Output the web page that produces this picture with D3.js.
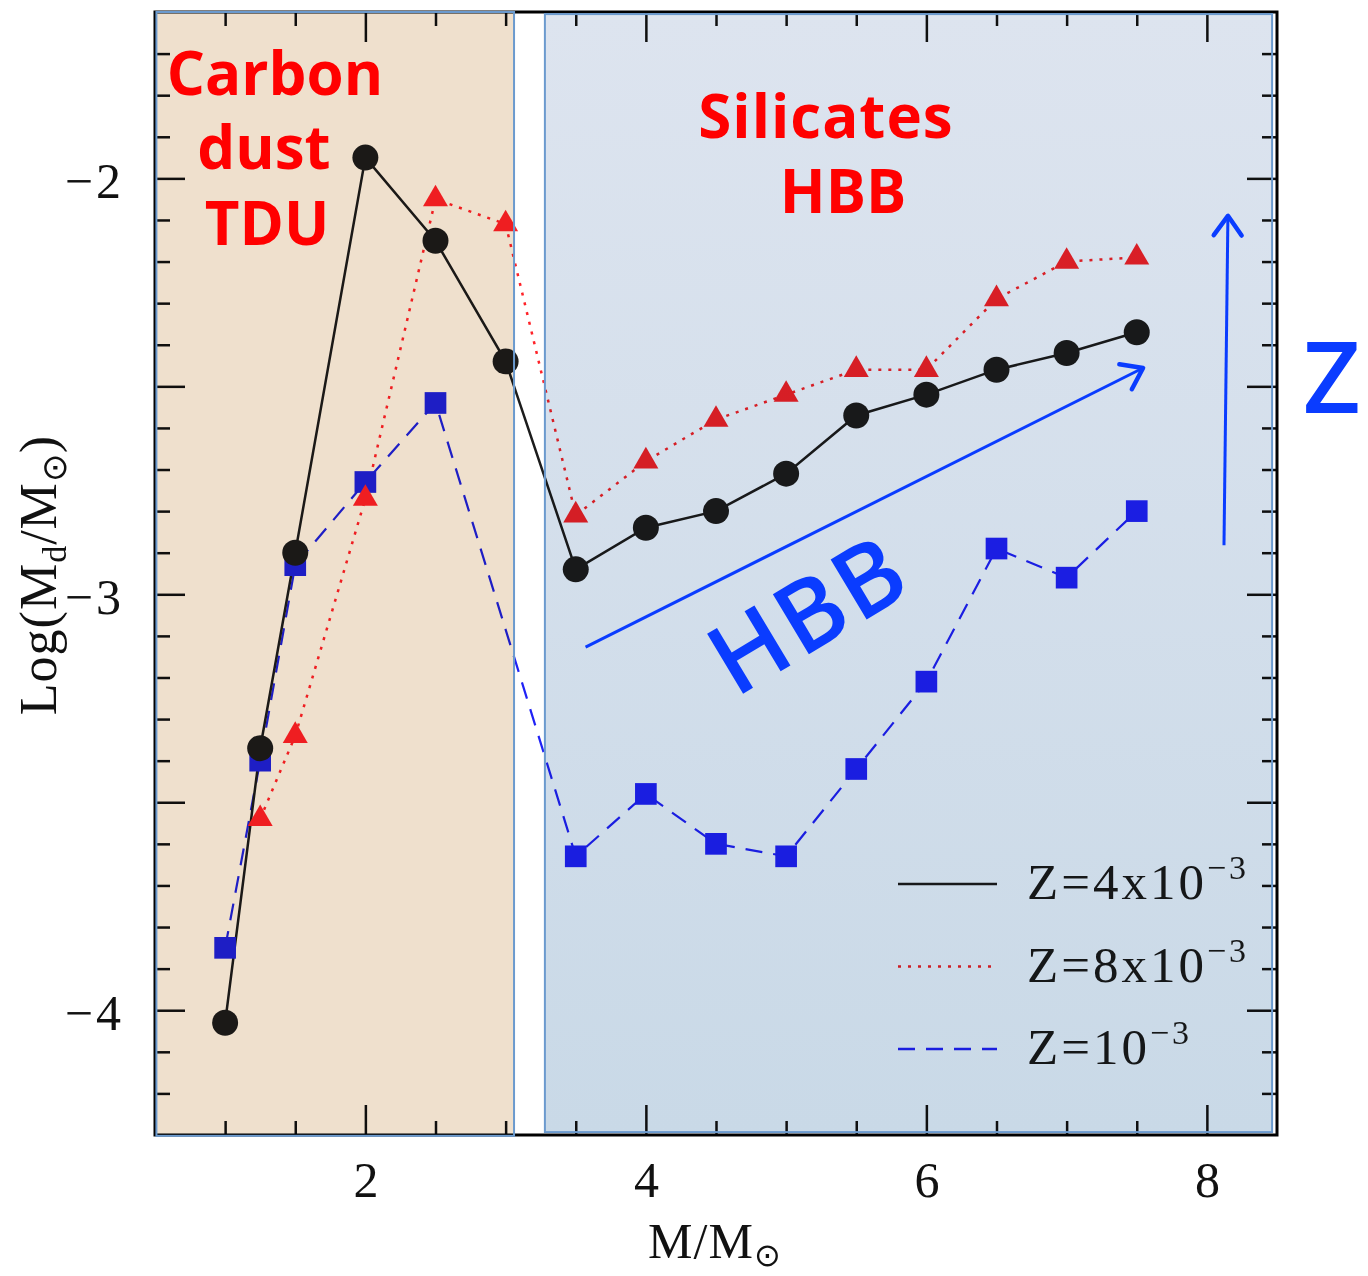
<!DOCTYPE html>
<html>
<head>
<meta charset="utf-8">
<script src="https://d3js.org/d3.v7.min.js"></script>
<style>
body { margin: 0; background: #fff; }
svg { display: block; }
.axis text { font-family: "Liberation Serif", serif; font-size: 50px; fill: #111; }
.note { font-family: "Open Sans", sans-serif; }
</style>
</head>
<body>
<svg id="chart" width="1368" height="1276"></svg>
<script>
// stellar mass (M/Msun) and log dust mass, one pair of arrays per metallicity
var massZ4 = [1, 1.25, 1.5, 2, 2.5, 3, 3.5, 4, 4.5, 5, 5.5, 6, 6.5, 7, 7.5];
var dustZ4 = [-4.03, -3.37, -2.90, -1.95, -2.15, -2.44, -2.94, -2.84, -2.80, -2.71, -2.57, -2.52, -2.46, -2.42, -2.37];

var massZ8 = [1.25, 1.5, 2, 2.5, 3, 3.5, 4, 4.5, 5, 5.5, 6, 6.5, 7, 7.5];
var dustZ8 = [-3.54, -3.34, -2.77, -2.05, -2.11, -2.81, -2.68, -2.58, -2.52, -2.46, -2.46, -2.29, -2.20, -2.19];

var massZ1 = [1, 1.25, 1.5, 2, 2.5, 3.5, 4, 4.5, 5, 5.5, 6, 6.5, 7, 7.5];
var dustZ1 = [-3.85, -3.40, -2.93, -2.73, -2.54, -3.63, -3.48, -3.60, -3.63, -3.42, -3.21, -2.89, -2.96, -2.80];

var legendText = ["Z=4x10", "Z=8x10", "Z=10"];
var legendExp = ["\u22123", "\u22123", "\u22123"];

var xMajor = [2, 4, 6, 8];
var yMajor = [-4, -3.5, -3, -2.5, -2];

var svg = d3.select("#chart");
// plot box (note: "top" is a reserved window global, so use pl/pr/pt/pb)
var pl = 155, pr = 1277, pt = 12, pb = 1135;

var x = d3.scaleLinear().domain([0.5, 8.5]).range([pl, pr]);
var y = d3.scaleLinear().domain([-4.3, -1.6]).range([pb, pt]);

svg.append("rect").attr("width", 1368).attr("height", 1276).attr("fill", "#fff");

var defs = svg.append("defs");
var grad = defs.append("linearGradient").attr("id", "blueGrad")
  .attr("x1", 0).attr("y1", 0).attr("x2", 0).attr("y2", 1);
grad.append("stop").attr("offset", "0%").attr("stop-color", "#dde4ef");
grad.append("stop").attr("offset", "100%").attr("stop-color", "#c9d9e7");

// ---- axes (ticks pointing inward) ----
var xMinor = d3.range(1, 8.01, 0.5).filter(function(v){ return xMajor.indexOf(v) < 0; });
var yMinor = d3.range(-4.2, -1.65, 0.1).map(function(v){ return Math.round(v*10)/10; })
  .filter(function(v){ return yMajor.indexOf(v) < 0; });

var fmtY = function(d){ return Number.isInteger(d) ? d3.format("d")(d) : ""; };

function addAxis(axis, tr) {
  var g = svg.append("g").attr("class", "axis").attr("transform", tr).call(axis);
  g.select(".domain").remove();
  g.selectAll("line").attr("stroke", "#111").attr("stroke-width", 2.5);
  return g;
}

addAxis(d3.axisBottom(x).tickValues(xMinor).tickSize(-14).tickFormat(""), "translate(0," + pb + ")");
addAxis(d3.axisBottom(x).tickValues(xMajor).tickSize(-30).tickPadding(26).tickFormat(d3.format("d")), "translate(0," + pb + ")");
addAxis(d3.axisTop(x).tickValues(xMinor).tickSize(-14).tickFormat(""), "translate(0," + pt + ")");
addAxis(d3.axisTop(x).tickValues(xMajor).tickSize(-30).tickFormat(""), "translate(0," + pt + ")");

addAxis(d3.axisLeft(y).tickValues(yMinor).tickSize(-15).tickFormat(""), "translate(" + pl + ",0)");
addAxis(d3.axisLeft(y).tickValues(yMajor).tickSize(-30).tickPadding(31).tickFormat(fmtY), "translate(" + pl + ",0)")
  .selectAll("text").attr("dy", "0.38em").attr("letter-spacing", 3);
addAxis(d3.axisRight(y).tickValues(yMinor).tickSize(-15).tickFormat(""), "translate(" + pr + ",0)");
addAxis(d3.axisRight(y).tickValues(yMajor).tickSize(-30).tickFormat(""), "translate(" + pr + ",0)");

// ---- series ----
var series = [
  {mass: massZ4, dust: dustZ4, color: "#1c1c1c", dash: null, width: 2.5, sym: d3.symbolCircle, size: 530},
  {mass: massZ8, dust: dustZ8, color: "#ff2228", dash: "3,7", width: 2.5, sym: d3.symbolTriangle, size: 270},
  {mass: massZ1, dust: dustZ1, color: "#2022f6", dash: "17,11", width: 2.2, sym: d3.symbolSquare, size: 470}
];

var line = d3.line().x(function(d){ return x(d[0]); }).y(function(d){ return y(d[1]); });

var plot = svg.append("g");
// draw blue, red, black so black sits on top like the original
[2, 1, 0].forEach(function(i) {
  var s = series[i];
  var pts = s.mass.map(function(m, j){ return [m, s.dust[j]]; });
  plot.append("path").attr("d", line(pts)).attr("fill", "none")
    .attr("stroke", s.color).attr("stroke-width", s.width)
    .attr("stroke-dasharray", s.dash);
});
[2, 1, 0].forEach(function(i) {
  var s = series[i];
  var pts = s.mass.map(function(m, j){ return [m, s.dust[j]]; });
  plot.selectAll(null).data(pts).enter().append("path")
    .attr("d", d3.symbol().type(s.sym).size(s.size))
    .attr("transform", function(d){ return "translate(" + x(d[0]) + "," + y(d[1]) + ")"; })
    .attr("fill", s.color);
});

// ---- legend ----
var legend = svg.append("g").attr("transform", "translate(898,884)");
series.forEach(function(s, i) {
  var g = legend.append("g").attr("transform", "translate(0," + (i * 82.5) + ")");
  g.append("line").attr("x1", 0).attr("x2", 99).attr("y1", 0).attr("y2", 0)
    .attr("stroke", s.color).attr("stroke-width", 2.5).attr("stroke-dasharray", s.dash);
  var t = g.append("text").attr("x", 129).attr("y", 15)
    .attr("font-family", "Liberation Serif, serif").attr("font-size", 51).attr("fill", "#1a1a1a")
    .attr("letter-spacing", 3);
  t.append("tspan").text(legendText[i]);
  t.append("tspan").attr("dy", -20).attr("font-size", 34).text(legendExp[i]);
});

// ---- shaded regions (multiplied over the plot) ----
function region(x0, x1, y0, y1, fill) {
  svg.append("rect")
    .attr("x", x(x0)).attr("y", y(y1)).attr("width", x(x1) - x(x0)).attr("height", y(y0) - y(y1))
    .attr("fill", fill).style("mix-blend-mode", "multiply");
}
function regionEdge(x0, x1, y0, y1) {
  svg.append("rect")
    .attr("x", x(x0)).attr("y", y(y1)).attr("width", x(x1) - x(x0)).attr("height", y(y0) - y(y1))
    .attr("fill", "none").attr("stroke", "#6b9ace").attr("stroke-width", 2);
}
region(0.51, 3.06, -4.302, -1.6, "#efe0cd");
region(3.28, 8.465, -4.293, -1.605, "url(#blueGrad)");

// frame
svg.append("path")
  .attr("d", "M" + pl + "," + pb + "V" + pt + "H" + pr + "V" + pb + "Z")
  .attr("fill", "none").attr("stroke", "#000").attr("stroke-width", 3);

regionEdge(0.51, 3.06, -4.302, -1.6);
regionEdge(3.28, 8.465, -4.293, -1.605);

// ---- axis titles ----
var xt = svg.append("text").attr("x", 715).attr("y", 1258).attr("text-anchor", "middle")
  .attr("font-family", "Liberation Serif, serif").attr("font-size", 50).attr("fill", "#111")
  .attr("letter-spacing", 1);
xt.append("tspan").text("M/M");
xt.append("tspan").attr("dy", 8).attr("font-size", 32).text("\u2299");

var yt = svg.append("text").attr("transform", "translate(56,575) rotate(-90)").attr("text-anchor", "middle")
  .attr("font-family", "Liberation Serif, serif").attr("font-size", 52).attr("fill", "#111")
  .attr("letter-spacing", 1);
yt.append("tspan").text("Log(M");
yt.append("tspan").attr("dy", 10).attr("font-size", 34).text("d");
yt.append("tspan").attr("dy", -10).text("/M");
yt.append("tspan").attr("dy", 10).attr("font-size", 34).text("\u2299");
yt.append("tspan").attr("dy", -10).text(")");

// ---- annotations ----
var red = "#ff0000", blue = "#0a3cff";
function note(txt, cx, by, size, color) {
  return svg.append("text").attr("class", "note").attr("x", cx).attr("y", by)
    .attr("text-anchor", "middle").attr("font-size", size).style("font-weight", 700)
    .attr("fill", color).text(txt);
}
note("Carbon", 275, 95, 60, red);
note("dust", 264, 169, 60, red);
note("TDU", 267, 245, 60, red);
note("Silicates", 826, 138, 60, red).attr("letter-spacing", 1);
note("HBB", 843, 213, 60, red);

svg.append("text").attr("class", "note").attr("transform", "translate(826,644) rotate(-31)")
  .attr("text-anchor", "middle").attr("font-size", 98).style("font-weight", 600)
  .attr("letter-spacing", 3).attr("fill", blue).text("HBB");
svg.append("text").attr("class", "note").attr("x", 1303).attr("y", 413)
  .attr("font-size", 100).style("font-weight", 600).attr("fill", blue).text("Z");

function arrow(x1, y1, x2, y2) {
  var a = Math.atan2(y2 - y1, x2 - x1), L = 24, w = 0.62;
  svg.append("line").attr("x1", x1).attr("y1", y1).attr("x2", x2).attr("y2", y2)
    .attr("stroke", blue).attr("stroke-width", 3);
  svg.append("path")
    .attr("d", "M" + (x2 - L * Math.cos(a - w)) + "," + (y2 - L * Math.sin(a - w)) +
      "L" + x2 + "," + y2 +
      "L" + (x2 - L * Math.cos(a + w)) + "," + (y2 - L * Math.sin(a + w)))
    .attr("fill", "none").attr("stroke", blue).attr("stroke-width", 4.5)
    .attr("stroke-linecap", "round").attr("stroke-linejoin", "round");
}
arrow(x(3.57), y(-3.127), x(7.545), y(-2.456));
arrow(x(8.122), y(-2.882), x(8.15), y(-2.09));
</script>
</body>
</html>
